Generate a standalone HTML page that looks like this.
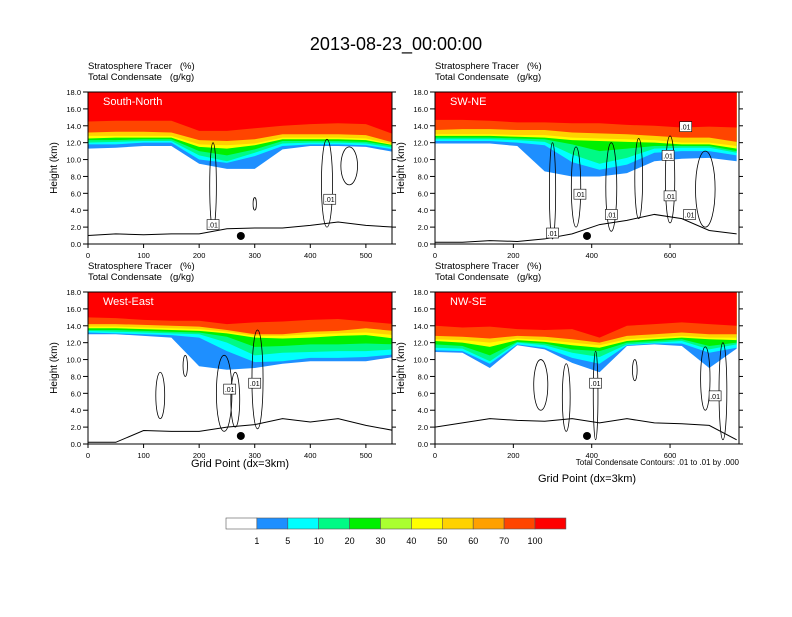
<!DOCTYPE html>
<html><head><meta charset="utf-8"><style>
body{margin:0;background:#fff;}
svg text{font-family:"Liberation Sans",sans-serif;white-space:pre;}
</style></head><body>
<svg id="fig" width="792" height="612" xmlns="http://www.w3.org/2000/svg" xml:space="preserve">
<text x="396" y="50" font-size="18" text-anchor="middle">2013-08-23_00:00:00</text>
<g id="panels"></g>
<g id="colorbar"></g>
<text x="739" y="465" font-size="8" text-anchor="end">Total Condensate Contours: .01 to .01 by .000</text>
</svg>
<script>
const levelLabels=["1","5","10","20","30","40","50","60","70","100"];
const barColors=["#ffffff","#1e8fff","#00ffff","#00fa85","#00f000","#aaff30","#ffff00","#ffd200","#ffa000","#ff4500","#ff0000"];
const bandColors=["#1e8fff","#00ffff","#00fa85","#00f000","#ffff00","#ffd200","#ff4500","#ff0000"];

const xsLeft=[0,50,100,150,200,250,300,350,400,450,500,550];
const xsRight=[0,70,140,210,280,350,420,490,560,630,700,770];

const snBands=[
[11.3,11.4,11.6,11.6,9.5,8.9,8.9,11.2,11.6,11.6,11.5,10.9],
[11.8,11.8,12.0,12.0,10.0,9.6,10.4,11.6,11.8,11.8,11.7,11.2],
[12.0,12.1,12.2,12.2,10.5,9.8,10.8,11.9,12.0,12.0,11.9,11.4],
[12.3,12.3,12.4,12.4,11.0,10.5,11.2,12.2,12.2,12.2,12.1,11.6],
[12.5,12.6,12.6,12.6,11.5,11.3,11.7,12.4,12.4,12.4,12.3,11.7],
[12.8,12.8,12.8,12.8,11.8,11.7,11.9,12.6,12.6,12.6,12.5,11.8],
[13.2,13.3,13.3,13.2,12.3,12.2,12.4,13.0,13.0,13.0,12.9,12.0],
[14.5,14.6,14.6,14.6,13.4,13.4,13.7,14.0,14.2,14.3,14.2,13.0]];
const swBands=[
[11.9,11.9,11.9,11.6,8.6,8.0,8.0,8.4,9.8,10.1,10.2,9.8],
[12.2,12.2,12.2,12.0,11.7,9.7,8.8,9.4,10.8,11.0,11.0,10.5],
[12.4,12.4,12.4,12.3,12.1,10.6,9.5,10.2,11.3,11.4,11.4,10.8],
[12.6,12.6,12.6,12.5,12.4,11.8,11.0,11.3,11.6,11.6,11.6,11.0],
[12.8,12.8,12.8,12.7,12.6,12.3,12.2,12.1,12.0,11.8,11.8,11.3],
[13.0,13.0,13.0,12.9,12.9,12.6,12.5,12.4,12.3,12.0,12.0,11.6],
[13.5,13.6,13.6,13.5,13.5,13.2,13.1,13.0,12.8,12.6,12.6,12.1],
[14.7,14.7,14.6,14.4,14.4,14.3,14.3,14.1,14.0,13.8,13.9,13.8]];
const weBands=[
[13.0,13.0,12.8,12.6,9.2,8.8,9.0,9.5,9.8,9.8,9.8,10.3],
[13.2,13.1,13.0,12.9,12.6,11.0,9.7,9.8,10.2,10.2,10.3,10.6],
[13.4,13.3,13.2,13.1,13.0,12.0,10.5,10.8,10.9,11.0,11.0,11.2],
[13.5,13.5,13.4,13.3,13.2,12.7,11.5,11.6,11.8,11.8,11.9,11.8],
[13.7,13.7,13.6,13.5,13.4,13.1,12.6,12.5,12.6,12.8,12.9,12.5],
[13.9,13.9,13.8,13.7,13.6,13.3,12.8,12.8,13.0,13.1,13.2,12.9],
[14.2,14.2,14.1,14.0,13.9,13.5,13.0,13.0,13.3,13.4,13.7,13.4],
[15.0,14.9,14.7,14.6,14.6,14.2,14.4,14.5,14.7,14.8,14.5,14.2]];
const nwBands=[
[10.9,10.8,9.0,11.7,11.2,9.6,8.5,11.6,11.8,11.6,9.0,11.3],
[11.1,11.0,9.5,11.8,11.4,10.2,9.5,11.7,11.9,11.9,10.8,11.4],
[11.4,11.3,9.8,12.0,11.7,10.8,10.3,11.8,12.0,12.2,11.2,11.8],
[11.8,11.6,10.5,12.1,11.9,11.2,11.0,12.0,12.2,12.4,11.6,12.0],
[12.2,12.0,11.5,12.3,12.1,11.7,11.4,12.2,12.4,12.6,12.4,12.3],
[12.4,12.3,12.0,12.5,12.3,12.0,11.7,12.4,12.6,12.8,12.6,12.6],
[12.8,12.7,12.5,12.8,12.7,12.4,12.0,12.8,13.0,13.2,13.0,13.0],
[14.0,13.8,13.9,13.6,13.5,13.6,12.6,14.0,14.2,14.4,14.2,14.0]];

const snTerrain=[1.0,1.2,1.1,1.2,1.2,1.8,1.9,1.9,2.2,2.6,2.2,2.0];
const swTerrain=[0.2,0.2,0.4,0.3,0.6,1.2,2.3,2.8,3.5,3.0,1.6,1.2];
const weTerrain=[0.2,0.2,1.6,1.5,1.5,2.0,2.3,3.0,2.6,3.0,2.2,1.6];
const nwTerrain=[2.0,2.5,3.0,2.8,2.7,3.0,2.5,3.0,2.5,2.4,2.2,0.5];

const snLoops=[[225,1.8,12.0,6],[430,2.0,12.4,10],[470,7.0,11.5,15],[300,4.0,5.5,3]];
const swLoops=[[300,0.6,12.0,8],[360,2.0,11.5,12],[450,1.5,12.0,14],[520,3.0,12.5,10],[600,2.5,12.8,12],[690,2.0,11.0,25]];
const weLoops=[[130,3.0,8.5,8],[245,1.5,10.5,14],[265,2.0,8.5,8],[305,1.8,13.5,10],[175,8.0,10.5,4]];
const nwLoops=[[270,4.0,10.0,18],[335,1.5,9.5,10],[410,0.5,11.0,6],[510,7.5,10.0,6],[690,4.0,11.5,12],[735,0.5,12.0,10]];
const snLabels=[[225,2.3],[435,5.3]];
const swLabels=[[300,1.3],[370,5.9],[450,3.5],[600,5.7],[650,3.5],[595,10.5],[640,13.9]];
const weLabels=[[255,6.5],[300,7.2]];
const nwLabels=[[410,7.2],[715,5.7]];

const panels=[
 {name:"south-north",label:"South-North",x0:88,y0:92,xmax:547,xs:xsLeft,bands:snBands,terrain:snTerrain,loops:snLoops,labels:snLabels,dot:275,ticks:[0,100,200,300,400,500],xtitle:false},
 {name:"sw-ne",label:"SW-NE",x0:435,y0:92,xmax:776,xs:xsRight,bands:swBands,terrain:swTerrain,loops:swLoops,labels:swLabels,dot:388,ticks:[0,200,400,600],xtitle:false},
 {name:"west-east",label:"West-East",x0:88,y0:292,xmax:547,xs:xsLeft,bands:weBands,terrain:weTerrain,loops:weLoops,labels:weLabels,dot:275,ticks:[0,100,200,300,400,500],xtitle:467},
 {name:"nw-se",label:"NW-SE",x0:435,y0:292,xmax:776,xs:xsRight,bands:nwBands,terrain:nwTerrain,loops:nwLoops,labels:nwLabels,dot:388,ticks:[0,200,400,600],xtitle:482}
];
const NS="http://www.w3.org/2000/svg";
const W=304,H=152;
function mk(tag,attrs,parent){const e=document.createElementNS(NS,tag);for(const k in attrs)e.setAttribute(k,attrs[k]);parent.appendChild(e);return e;}
const root=document.getElementById("panels");
panels.forEach(p=>{
 const g=mk("g",{},root);
 
 
 const sx=v=>p.x0+v/p.xmax*W, sy=v=>p.y0+H-v/18*H;
 const cid="clip-"+p.name;
 const cp=mk("clipPath",{id:cid},g);mk("rect",{x:p.x0,y:p.y0,width:W,height:H},cp);
 const pg=mk("g",{"clip-path":"url(#"+cid+")"},g);
 p.bands.forEach((b,i)=>{
   let d="M"+sx(0)+","+sy(18);
   p.xs.forEach((x,j)=>{d+=" L"+sx(x)+","+sy(b[j]);});
   d+=" L"+sx(p.xs[p.xs.length-1])+","+sy(18)+"Z";
   const e=mk("path",{d:d,fill:bandColors[i]},pg);
   
   
 });
 p.loops.forEach(l=>{
   const e=mk("ellipse",{cx:sx(l[0]),cy:(sy(l[1])+sy(l[2]))/2,rx:l[3]/p.xmax*W,ry:(sy(l[1])-sy(l[2]))/2,fill:"none",stroke:"#000","stroke-width":0.8},pg);
   
   
 });
 let td="";p.xs.forEach((x,j)=>{td+=(j?" L":"M")+sx(x)+","+sy(p.terrain[j]);});
 const t=mk("path",{d:td,fill:"none",stroke:"#000","stroke-width":1},pg);
 
 
 p.labels.forEach(l=>{
   const lg=mk("g",{},pg);
   
   
   mk("rect",{x:sx(l[0])-6,y:sy(l[1])-5,width:12,height:10,fill:"#fff",stroke:"#000","stroke-width":0.6},lg);
   const tx=mk("text",{x:sx(l[0]),y:sy(l[1])+3,"font-size":7,"text-anchor":"middle"},lg);tx.textContent=".01";
 });
 const dot=mk("circle",{cx:sx(p.dot),cy:sy(0.95),r:4,fill:"#000"},g);
 
 
 const fr=mk("rect",{x:p.x0,y:p.y0,width:W,height:H,fill:"none",stroke:"#000","stroke-width":1},g);
 
 
 const pl=mk("text",{x:p.x0+15,y:p.y0+13,"font-size":11,fill:"#fff"},g);pl.textContent=p.label;
 
 
 const h1=mk("text",{x:p.x0,y:p.y0-23,"font-size":9.5},g);h1.textContent="Stratosphere Tracer   (%)";
 
 
 const h2=mk("text",{x:p.x0,y:p.y0-12,"font-size":9.5},g);h2.textContent="Total Condensate   (g/kg)";
 
 
 for(let v=0;v<=18;v+=2){
   const y=sy(v);
   mk("line",{x1:p.x0-5,y1:y,x2:p.x0,y2:y,stroke:"#000"},g);
   mk("line",{x1:p.x0+W,y1:y,x2:p.x0+W+4,y2:y,stroke:"#000"},g);
   const tl=mk("text",{x:p.x0-7,y:y+3,"font-size":7.5,"text-anchor":"end"},g);tl.textContent=v.toFixed(1);
   
   
 }
 p.ticks.forEach(v=>{
   const x=sx(v);
   mk("line",{x1:x,y1:p.y0+H,x2:x,y2:p.y0+H+4,stroke:"#000"},g);
   const tl=mk("text",{x:x,y:p.y0+H+14,"font-size":7.5,"text-anchor":"middle"},g);tl.textContent=v;
   
   
 });
 const yt=mk("text",{x:0,y:0,"font-size":10,"text-anchor":"middle",transform:"translate("+(p.x0-31)+","+(p.y0+H/2)+") rotate(-90)"},g);yt.textContent="Height (km)";
 
 
 if(p.xtitle){
   const xt=mk("text",{x:p.x0+W/2,y:p.xtitle,"font-size":11,"text-anchor":"middle"},g);xt.textContent="Grid Point (dx=3km)";
   
   
 }
});
const cb=document.getElementById("colorbar");
const bw=30.9,bx=226,by=518;
barColors.forEach((c,i)=>{
 const r=mk("rect",{x:bx+i*bw,y:by,width:bw,height:11,fill:c,stroke:"#555","stroke-width":0.6},cb);
 
 
});
levelLabels.forEach((l,i)=>{
 const t=mk("text",{x:bx+(i+1)*bw,y:by+26,"font-size":9,"text-anchor":"middle"},cb);t.textContent=l;
 
 
});
</script>
</body></html>
